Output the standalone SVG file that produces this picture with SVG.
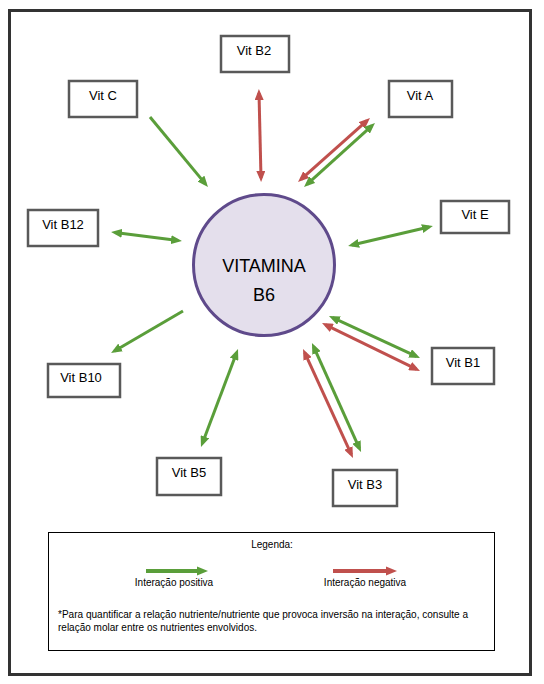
<svg xmlns="http://www.w3.org/2000/svg" width="544" height="684" viewBox="0 0 544 684">
<style>
.box{fill:#fff;stroke:#595959;stroke-width:2.5}
.lbl{font-family:"Liberation Sans",Arial,sans-serif;font-size:13px;fill:#000;text-anchor:middle}
.g{stroke:#5a9e3a;stroke-width:3;fill:none}
.r{stroke:#c0504d;stroke-width:3;fill:none}
.leg{font-family:"Liberation Sans",Arial,sans-serif;font-size:10px;fill:#000}
</style>
<defs>
<marker id="ag" markerUnits="userSpaceOnUse" markerWidth="11" markerHeight="9" refX="7" refY="4.5" orient="auto-start-reverse"><path d="M0,0 L11,4.5 L0,9 z" fill="#5a9e3a"/></marker>
<marker id="ar" markerUnits="userSpaceOnUse" markerWidth="11" markerHeight="9" refX="7" refY="4.5" orient="auto-start-reverse"><path d="M0,0 L11,4.5 L0,9 z" fill="#c0504d"/></marker>
</defs>
<rect x="9.5" y="10.5" width="521" height="664" fill="#fff" stroke="#333" stroke-width="3"/>

<g id="connectors">
<line class="g" x1="150" y1="117" x2="205.4" y2="183.9" marker-end="url(#ag)"/>
<line class="r" x1="259" y1="93" x2="261" y2="178" marker-start="url(#ar)" marker-end="url(#ar)"/>
<line class="r" x1="367" y1="120.7" x2="301" y2="179.3" marker-start="url(#ar)" marker-end="url(#ar)"/>
<line class="g" x1="372" y1="125.7" x2="307" y2="184.3" marker-start="url(#ag)" marker-end="url(#ag)"/>
<line class="g" x1="115" y1="232.5" x2="178" y2="240.5" marker-start="url(#ag)" marker-end="url(#ag)"/>
<line class="g" x1="352" y1="245" x2="429" y2="227" marker-start="url(#ag)" marker-end="url(#ag)"/>
<line class="g" x1="332.6" y1="317.7" x2="416.4" y2="356.3" marker-start="url(#ag)" marker-end="url(#ag)"/>
<line class="r" x1="325.6" y1="324.8" x2="416.4" y2="369.2" marker-start="url(#ar)" marker-end="url(#ar)"/>
<line class="g" x1="183" y1="311" x2="114.5" y2="351" marker-end="url(#ag)"/>
<line class="g" x1="236.6" y1="352.7" x2="202.4" y2="443.3" marker-start="url(#ag)" marker-end="url(#ag)"/>
<line class="r" x1="304.7" y1="352.6" x2="351.3" y2="454.4" marker-start="url(#ar)" marker-end="url(#ar)"/>
<line class="g" x1="313.6" y1="346.6" x2="359.4" y2="448.4" marker-start="url(#ag)" marker-end="url(#ag)"/>
</g>

<g id="vitamina-b6">
<circle cx="264" cy="265" r="70.5" fill="#e4dfec" stroke="#5f4a8b" stroke-width="3"/>
<text x="264" y="272" font-family="Liberation Sans,Arial,sans-serif" font-size="18" text-anchor="middle" fill="#000">VITAMINA</text>
<text x="264" y="301" font-family="Liberation Sans,Arial,sans-serif" font-size="18" text-anchor="middle" fill="#000">B6</text>
</g>

<g id="vit-b2"><rect class="box" x="221" y="36" width="68" height="36"/><text class="lbl" x="254" y="55">Vit B2</text></g>
<g id="vit-c"><rect class="box" x="69" y="81" width="68" height="36"/><text class="lbl" x="103" y="100">Vit C</text></g>
<g id="vit-a"><rect class="box" x="389" y="81" width="63" height="36"/><text class="lbl" x="420" y="100">Vit A</text></g>
<g id="vit-b12"><rect class="box" x="28" y="210" width="70" height="36"/><text class="lbl" x="63" y="229">Vit B12</text></g>
<g id="vit-e"><rect class="box" x="441" y="201" width="68" height="32"/><text class="lbl" x="475" y="219">Vit E</text></g>
<g id="vit-b1"><rect class="box" x="432" y="348" width="62" height="36"/><text class="lbl" x="463" y="367">Vit B1</text></g>
<g id="vit-b10"><rect class="box" x="48" y="364" width="72" height="33"/><text class="lbl" x="81" y="382">Vit B10</text></g>
<g id="vit-b5"><rect class="box" x="157" y="458" width="64" height="37"/><text class="lbl" x="189" y="477">Vit B5</text></g>
<g id="vit-b3"><rect class="box" x="333" y="470" width="64" height="36"/><text class="lbl" x="365" y="489">Vit B3</text></g>

<g id="legenda">
<rect x="48.5" y="532.5" width="446" height="118" fill="#fff" stroke="#000" stroke-width="1"/>
<text class="leg" x="272" y="548" text-anchor="middle">Legenda:</text>
<line x1="146" y1="571" x2="199" y2="571" stroke="#5a9e3a" stroke-width="4"/>
<polygon points="197,566.5 208,571 197,575.5" fill="#5a9e3a"/>
<line x1="333" y1="571" x2="387" y2="571" stroke="#c0504d" stroke-width="4"/>
<polygon points="386,566.5 397,571 386,575.5" fill="#c0504d"/>
<text class="leg" x="174" y="586" text-anchor="middle">Interação positiva</text>
<text class="leg" x="365" y="586" text-anchor="middle">Interação negativa</text>
<text class="leg" x="58" y="618" textLength="410" lengthAdjust="spacingAndGlyphs">*Para quantificar a relação nutriente/nutriente que provoca inversão na interação, consulte a</text>
<text class="leg" x="58" y="631">relação molar entre os nutrientes envolvidos.</text>
</g>
</svg>
